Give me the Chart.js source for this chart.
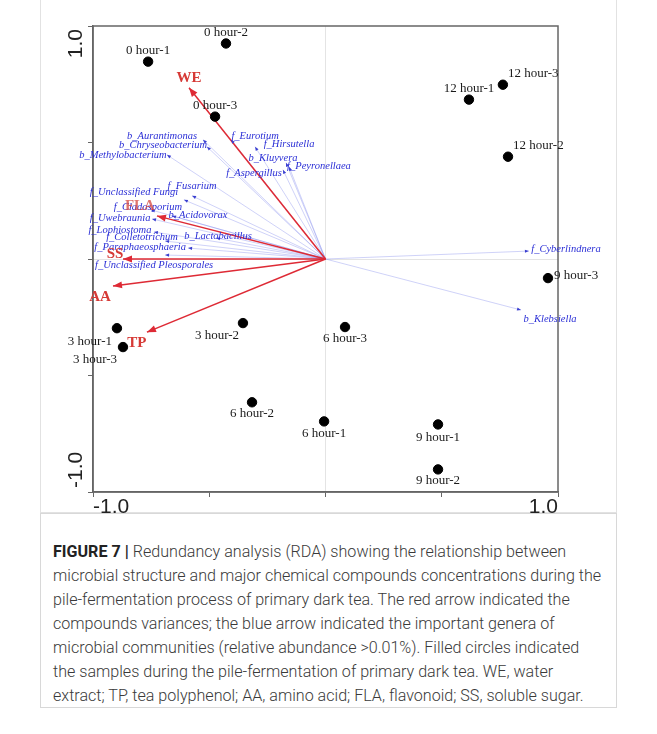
<!DOCTYPE html>
<html>
<head>
<meta charset="utf-8">
<script src="https://cdn.jsdelivr.net/npm/chart.js@4.4.0/dist/chart.umd.min.js"></script>
<style>
  body { margin: 0; background: #fff; width: 657px; height: 734px; position: relative; overflow: hidden; }
  #plotWrap { position: absolute; left: 0; top: 0; width: 657px; height: 545px; z-index: 2; }
  #figBox { position: absolute; left: 40px; top: -1px; width: 577px; height: 514px; border: 1px solid #e2e2e2; box-sizing: border-box; }
  #caption { position: absolute; left: 40px; top: 513px; width: 577px; height: 195px; border: 1px solid #d8d8d8; box-sizing: border-box; z-index: 1;
    padding: 26px 0 0 12px; font-family: 'Roboto', 'Liberation Sans', sans-serif; font-weight: 300; font-size: 16.1px; line-height: 24px; color: #3a3a3a; white-space: nowrap; }
  #caption b { font-weight: 700; color: #222; }
</style>
</head>
<body>
<div id="figBox"></div>
<div id="plotWrap"><canvas id="rdaChart" width="657" height="545"></canvas></div>
<div id="caption">
  <b>FIGURE 7 |</b> Redundancy analysis (RDA) showing the relationship between<br>
  microbial structure and major chemical compounds concentrations during the<br>
  pile-fermentation process of primary dark tea. The red arrow indicated the<br>
  compounds variances; the blue arrow indicated the important genera of<br>
  microbial communities (relative abundance &gt;0.01%). Filled circles indicated<br>
  the samples during the pile-fermentation of primary dark tea. WE, water<br>
  extract; TP, tea polyphenol; AA, amino acid; FLA, flavonoid; SS, soluble sugar.
</div>
<script>
// samples
const sampleNames = ['0 hour-1', '0 hour-2', '0 hour-3', '3 hour-1', '3 hour-2', '3 hour-3',
    '6 hour-1', '6 hour-2', '6 hour-3', '9 hour-1', '9 hour-2', '9 hour-3',
    '12 hour-1', '12 hour-2', '12 hour-3'];
const sampleX = [-0.763, -0.428, -0.475, -0.897, -0.355, -0.871, -0.006, -0.316, 0.084, 0.484, 0.484, 0.957, 0.617, 0.785, 0.763];
const sampleY = [0.847, 0.925, 0.611, -0.297, -0.275, -0.378, -0.697, -0.615, -0.292, -0.710, -0.903, -0.082, 0.684, 0.439, 0.748];

// chemical compounds (red arrows)
const compoundNames = ['WE', 'FLA', 'SS', 'AA', 'TP'];
const compoundX = [-0.587, -0.725, -0.871, -0.914, -0.768];
const compoundY = [0.735, 0.185, 0.000, -0.116, -0.314];

// genera (blue arrows)
const generaNames = ['b_Aurantimonas', 'b_Chryseobacterium', 'b_Methylobacterium', 'f_Eurotium', 'f_Hirsutella',
    'b_Kluyvera', 'f_Peyronellaea', 'f_Aspergillus', 'f_Fusarium', 'f_Unclassified Fungi',
    'f_Cladosporium', 'b_Acidovorax', 'f_Uwebraunia', 'f_Lophiostoma', 'f_Colletotrichum',
    'b_Lactobacillus', 'f_Paraphaeosphaeria', 'f_Unclassified Pleosporales', 'f_Cyberlindnera', 'b_Klebsiella'];
const generaX = [-0.527, -0.510, -0.682, -0.406, -0.303, -0.170, -0.157, -0.183, -0.574, -0.609,
    -0.751, -0.660, -0.746, -0.738, -0.690, -0.471, -0.591, -0.690, 0.875, 0.841];
const generaY = [0.512, 0.482, 0.447, 0.512, 0.482, 0.413, 0.396, 0.383, 0.271, 0.254,
    0.211, 0.185, 0.172, 0.116, 0.077, 0.090, 0.047, 0.017, 0.034, -0.219];

const tickValues = [-1, -0.5, 0, 0.5, 1];
const tickLabels = ['-1.0', '', '', '', '1.0'];

// label placement in pixels from the mark: [dx, dy, align]
const sampleLabelPos = [[0, -11], [0, -11], [0, -11], [-27, 13], [-26, 13], [-28, 13],
    [0, 12], [0, 11], [0, 12], [0, 13], [0, 11], [6, -3, 'left'],
    [0, -11], [5, -11, 'left'], [5, -11, 'left']];
const compoundLabelPos = [[0, -10], [-17, -10], [-8, -5], [-13, 11], [-10, 11]];
const generaLabelPos = [[-41, -3], [-44, -1], [-44, 0], [24, -3], [34, -2], [-13, -5], [30, 0], [-29, 3],
    [0, -10], [-50, -8], [-3, -3], [26, -1], [-32, -1], [-34, -2], [-23, -4], [2, -2], [-48, -1],
    [-11, 10], [37, -2], [29, 9]];

const RED = '#de2a35';
const BLUE_LINE = 'rgba(120,130,235,0.45)';
const BLUE_TEXT = '#2b2fd6';
const SANS = "'Liberation Sans', 'DejaVu Sans', Arial, sans-serif";
const SERIF = "'Liberation Serif', 'Times New Roman', serif";

function arrowDataset(x, y, color, width) {
    return {
        type: 'line',
        data: [{ x: 0, y: 0 }, { x: x, y: y }],
        borderColor: color,
        borderWidth: width,
        pointRadius: 0,
        showLine: true,
        fill: false,
        order: 2
    };
}

const datasets = [];
generaX.forEach((x, i) => datasets.push(arrowDataset(x, generaY[i], BLUE_LINE, 0.8)));
compoundX.forEach((x, i) => {
    const d = arrowDataset(x, compoundY[i], RED, 1.5);
    d.order = 1;
    datasets.push(d);
});
datasets.push({
    type: 'scatter',
    data: sampleX.map((x, i) => ({ x: x, y: sampleY[i] })),
    backgroundColor: '#000',
    borderColor: '#000',
    pointRadius: 4.7,
    order: 0
});

function head(ctx, x0, y0, x1, y1, len, wid, color) {
    const a = Math.atan2(y1 - y0, x1 - x0);
    ctx.save();
    ctx.translate(x1, y1);
    ctx.rotate(a);
    ctx.fillStyle = color;
    ctx.beginPath();
    ctx.moveTo(0, 0);
    ctx.lineTo(-len, wid);
    ctx.lineTo(-len, -wid);
    ctx.closePath();
    ctx.fill();
    ctx.restore();
}

function label(ctx, text, px, py, pos, font, color) {
    ctx.font = font;
    ctx.fillStyle = color;
    ctx.textAlign = pos[2] || 'center';
    ctx.textBaseline = 'middle';
    ctx.fillText(text, px + pos[0], py + pos[1]);
}

const rdaDecor = {
    id: 'rdaDecor',
    afterDatasetsDraw(chart) {
        const ctx = chart.ctx;
        const xs = chart.scales.x, ys = chart.scales.y;
        const ox = xs.getPixelForValue(0), oy = ys.getPixelForValue(0);
        const area = chart.chartArea;

        // frame
        ctx.save();
        ctx.strokeStyle = '#666';
        ctx.lineWidth = 1.5;
        ctx.strokeRect(area.left, area.top, area.right - area.left, area.bottom - area.top);

        // tick labels at the axis ends
        ctx.font = '21px ' + SANS;
        ctx.fillStyle = '#222';
        ctx.textBaseline = 'middle';
        [[-1, 'left'], [1, 'right']].forEach(([v, al]) => {
            ctx.textAlign = al;
            ctx.fillText(tickLabels[tickValues.indexOf(v)], xs.getPixelForValue(v), area.bottom + 15);
        });
        [[1, 'right', 3], [-1, 'left', 4]].forEach(([v, al, off]) => {
            const py = ys.getPixelForValue(v);
            ctx.save();
            ctx.translate(area.left - 17, v > 0 ? py + off : py - off);
            ctx.rotate(-Math.PI / 2);
            ctx.textAlign = al;
            ctx.fillText(tickLabels[tickValues.indexOf(v)], 0, 0);
            ctx.restore();
        });

        // arrowheads
        generaX.forEach((x, i) => {
            head(ctx, ox, oy, xs.getPixelForValue(x), ys.getPixelForValue(generaY[i]), 4, 1.6, '#3a3fd0');
        });
        compoundX.forEach((x, i) => {
            head(ctx, ox, oy, xs.getPixelForValue(x), ys.getPixelForValue(compoundY[i]), 9, 3.5, RED);
        });

        // labels
        generaNames.forEach((n, i) => {
            label(ctx, n, xs.getPixelForValue(generaX[i]), ys.getPixelForValue(generaY[i]), generaLabelPos[i],
                'italic 10.5px ' + SERIF, BLUE_TEXT);
        });
        compoundNames.forEach((n, i) => {
            label(ctx, n, xs.getPixelForValue(compoundX[i]), ys.getPixelForValue(compoundY[i]), compoundLabelPos[i],
                'bold 15px ' + SERIF, n === 'FLA' ? 'rgba(214,70,60,0.75)' : '#d63a36');
        });
        sampleNames.forEach((n, i) => {
            label(ctx, n, xs.getPixelForValue(sampleX[i]), ys.getPixelForValue(sampleY[i]), sampleLabelPos[i],
                '13px ' + SERIF, '#1a1a1a');
        });
        ctx.restore();
    }
};

const gridOpts = {
    color: ctx => (ctx.tick && ctx.tick.value === 0 ? '#e4e4e4' : 'rgba(0,0,0,0)'),
    tickColor: '#666',
    tickLength: 5,
    lineWidth: 1
};

new Chart(document.getElementById('rdaChart'), {
    type: 'scatter',
    data: { datasets: datasets },
    options: {
        responsive: false,
        animation: false,
        layout: { padding: { left: 93, top: 26, right: 99, bottom: 13 } },
        plugins: { legend: { display: false }, tooltip: { enabled: false } },
        scales: {
            x: {
                type: 'linear', min: -1, max: 1,
                afterBuildTicks: s => { s.ticks = tickValues.map(v => ({ value: v })); },
                afterFit: s => { s.height = 40; },
                grid: gridOpts,
                border: { display: true, color: '#666', width: 1.5 },
                ticks: { display: false }
            },
            y: {
                type: 'linear', min: -1, max: 1,
                afterBuildTicks: s => { s.ticks = tickValues.map(v => ({ value: v })); },
                afterFit: s => { s.width = 0; },
                grid: gridOpts,
                border: { display: true, color: '#666', width: 1.5 },
                ticks: { display: false }
            }
        }
    },
    plugins: [rdaDecor]
});
</script>
</body>
</html>
